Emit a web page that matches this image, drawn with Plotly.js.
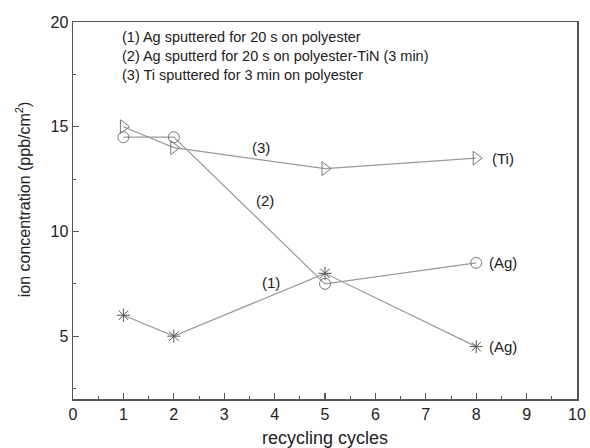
<!DOCTYPE html>
<html>
<head>
<meta charset="utf-8">
<script src="https://cdn.plot.ly/plotly-3.0.1.min.js"></script>
<style>body{margin:0;padding:0;background:#fff;} #chart{width:590px;height:448px;}</style>
</head>
<body>
<div id="chart"></div>
<script>
var cycles = [1, 2, 5, 8];
var agPolyester = [6, 5, 8, 4.5];
var agPolyesterTiN = [14.5, 14.5, 7.5, 8.5];
var tiPolyester = [15, 14, 13, 13.5];

var legendLines = [
  "(1) Ag sputtered for 20 s on polyester",
  "(2) Ag sputterd for 20 s on polyester-TiN (3 min)",
  "(3) Ti sputtered for 3 min on polyester"
];
var curveLabels = [
  {x: 3.93, y: 7.56, text: "(1)"},
  {x: 3.8, y: 11.5, text: "(2)"},
  {x: 3.73, y: 14.0, text: "(3)"},
  {x: 8.53, y: 13.5, text: "(Ti)"},
  {x: 8.53, y: 8.5, text: "(Ag)"},
  {x: 8.53, y: 4.5, text: "(Ag)"}
];
var yTitle = 'ion concentration (ppb/cm<sup>2</sup>)';
var xTitle = 'recycling cycles';

var FONT = 'Liberation Sans, Arial, sans-serif';
var lineColor = '#9a9a9a';
var markColor = '#555';

var traces = [
  {x: cycles, y: agPolyester, mode: 'lines+markers', type: 'scatter',
   line: {color: lineColor, width: 1.2},
   marker: {symbol: 'asterisk-open', size: 11, color: markColor, line: {color: markColor, width: 1}}},
  {x: cycles, y: agPolyesterTiN, mode: 'lines+markers', type: 'scatter',
   line: {color: lineColor, width: 1.2},
   marker: {symbol: 'circle-open', size: 11, color: '#777', line: {color: '#777', width: 1}}},
  {x: cycles, y: tiPolyester, mode: 'lines+markers', type: 'scatter',
   line: {color: lineColor, width: 1.2},
   marker: {symbol: 'triangle-right-open', size: 12, color: '#777', line: {color: '#777', width: 1}}}
];

var annotations = [];
legendLines.forEach(function(t, i) {
  annotations.push({xref: 'paper', yref: 'paper', x: 0.093, y: 0.960 - i * 0.0505,
    xanchor: 'left', yanchor: 'middle', text: t, showarrow: false,
    font: {family: FONT, size: 14.5, color: '#222'}});
});
curveLabels.forEach(function(c) {
  annotations.push({x: c.x, y: c.y, text: c.text, showarrow: false,
    xanchor: 'center', yanchor: 'middle',
    font: {family: FONT, size: 15, color: '#222'}});
});
annotations.push({xref: 'paper', yref: 'paper', x: -0.099, y: 0.53, textangle: -90,
  xanchor: 'center', yanchor: 'middle', text: yTitle, showarrow: false,
  font: {family: FONT, size: 16, color: '#222'}});

var axisCommon = {
  showgrid: false, zeroline: false, showline: true, linecolor: '#555', linewidth: 1.5,
  mirror: true, ticks: 'inside', ticklen: 6, tickwidth: 1.2, tickcolor: '#555',
  tickfont: {family: FONT, size: 16, color: '#222'}
};

var layout = {
  width: 590, height: 448,
  margin: {l: 73, r: 13, t: 22, b: 49},
  paper_bgcolor: '#fff', plot_bgcolor: '#fff',
  showlegend: false,
  xaxis: Object.assign({}, axisCommon, {
    range: [0, 10], dtick: 1, tick0: 0,
    minor: {dtick: 0.5, ticks: 'inside', ticklen: 3, tickcolor: '#555', tickwidth: 1},
    title: {text: xTitle, standoff: 9,
      font: {family: FONT, size: 18, color: '#222'}}
  }),
  yaxis: Object.assign({}, axisCommon, {
    range: [2, 20], tickvals: [5, 10, 15, 20],
    minor: {tickvals: [2.5, 7.5, 12.5, 17.5], ticks: 'inside', ticklen: 3, tickcolor: '#555', tickwidth: 1}
  }),
  annotations: annotations
};

Plotly.newPlot('chart', traces, layout, {displayModeBar: false, staticPlot: true});
</script>
</body>
</html>
